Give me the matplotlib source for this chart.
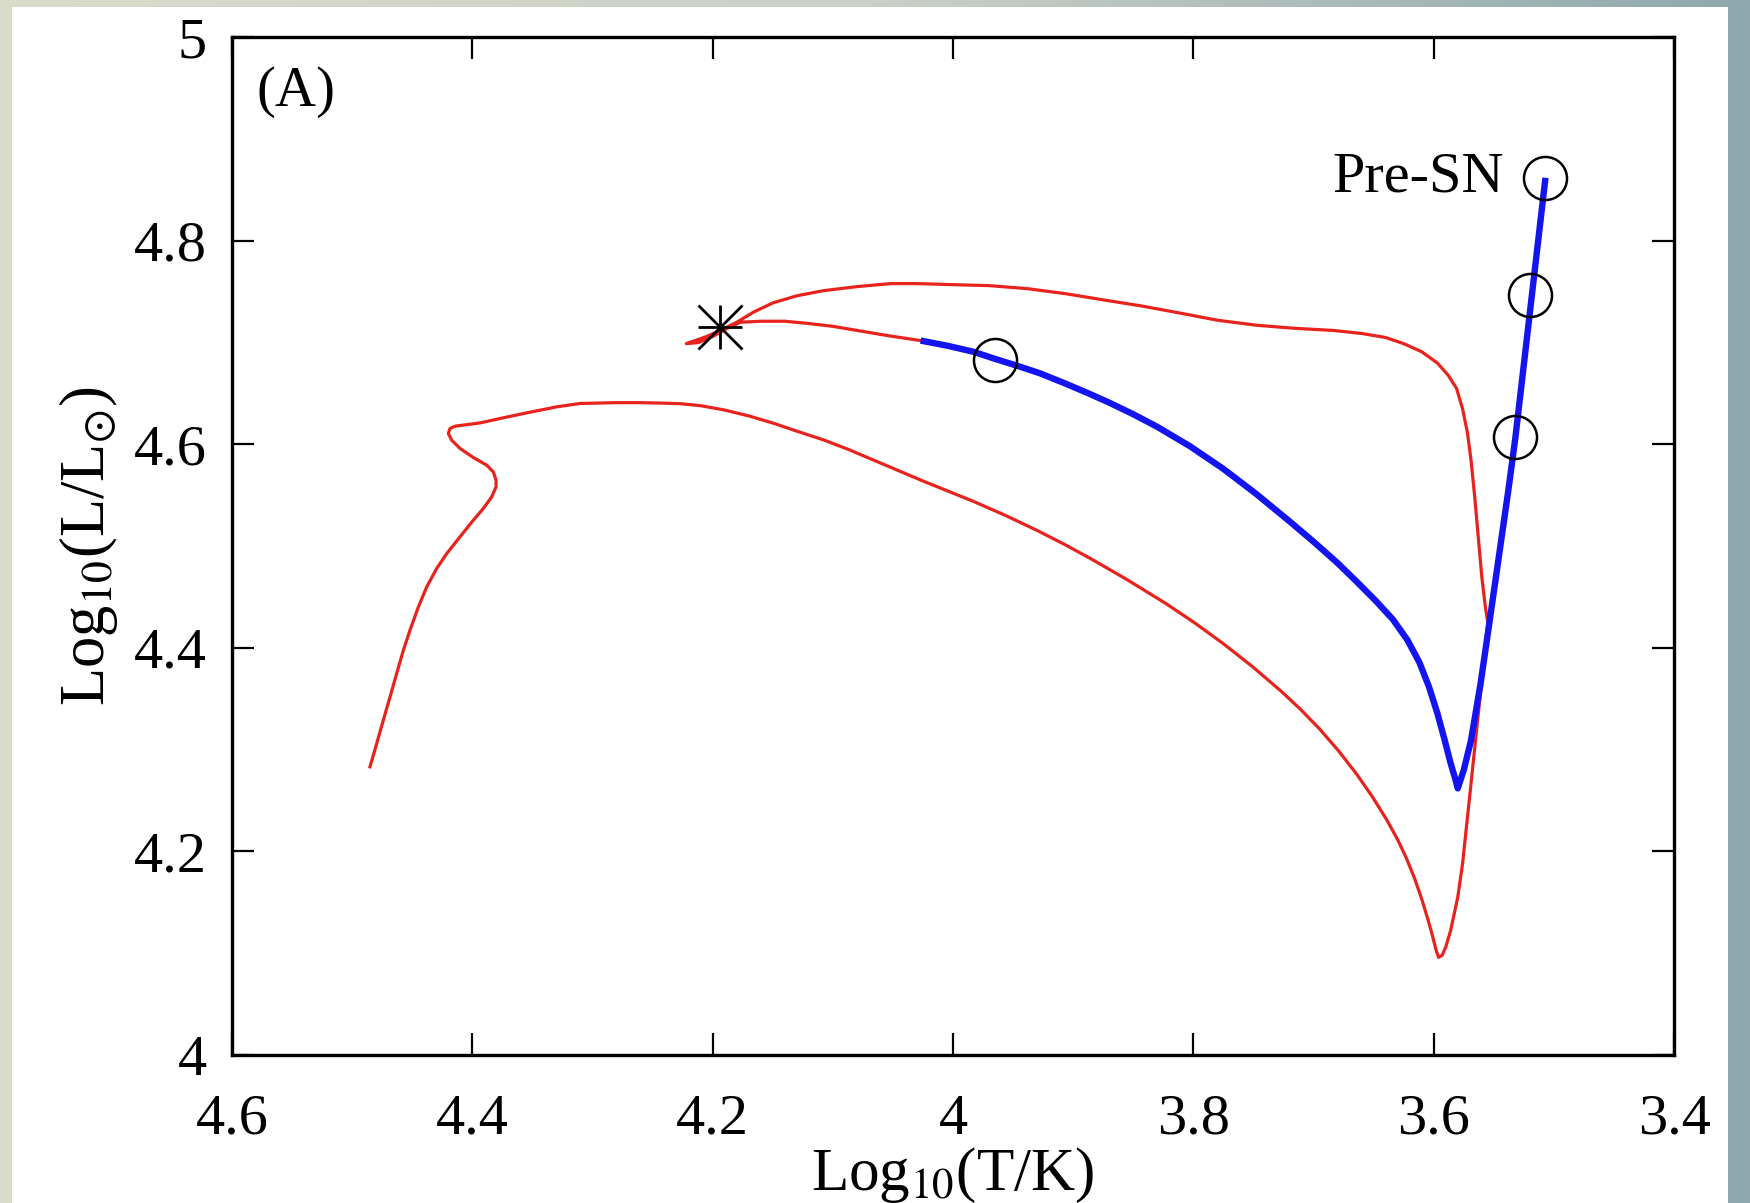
import matplotlib
matplotlib.use('Agg')
import matplotlib.pyplot as plt
from matplotlib.patches import Rectangle
from matplotlib.colors import LinearSegmentedColormap
import numpy as np

plt.rcParams['font.family'] = ['Liberation Serif', 'DejaVu Serif']
plt.rcParams['mathtext.fontset'] = 'stix'

# Трек до голубой петли (красный)
red_logT = [4.4852, 4.4796, 4.4741, 4.4685, 4.4630, 4.4574, 4.4519, 4.4449, 4.4380, 4.4297,
            4.4213, 4.4103, 4.3992, 4.3909, 4.3839, 4.3803, 4.3803, 4.3826, 4.3881, 4.3992,
            4.4103, 4.4172, 4.4200, 4.4186, 4.4144, 4.3936, 4.3770, 4.3576, 4.3298, 4.3104,
            4.280, 4.260, 4.240, 4.227, 4.210, 4.191, 4.170, 4.150, 4.130, 4.108,
            4.087, 4.067, 4.046, 4.025, 4.004, 3.983, 3.956, 3.930, 3.908, 3.886,
            3.855, 3.823, 3.799, 3.775, 3.751, 3.727, 3.711, 3.695, 3.679, 3.664,
            3.651, 3.639, 3.630, 3.623, 3.616, 3.610, 3.605, 3.601, 3.598, 3.596,
            3.593, 3.590, 3.586, 3.580, 3.576, 3.570, 3.564, 3.558, 3.555,
            3.557, 3.560, 3.563, 3.566, 3.569, 3.572, 3.576, 3.581, 3.588, 3.597,
            3.610, 3.625, 3.640, 3.660, 3.684, 3.715, 3.747, 3.780, 3.811, 3.843,
            3.875, 3.906, 3.938, 3.970, 4.002, 4.030, 4.052, 4.080, 4.108, 4.130,
            4.150, 4.166, 4.180, 4.192, 4.205, 4.222, 4.212, 4.200, 4.188, 4.177,
            4.160, 4.140, 4.122, 4.100, 4.080, 4.055, 4.027]
red_logL = [4.2832, 4.3062, 4.3291, 4.3520, 4.3749, 4.3978, 4.4175, 4.4404, 4.4600, 4.4781,
            4.4928, 4.5092, 4.5255, 4.5370, 4.5485, 4.5583, 4.5648, 4.5730, 4.5796, 4.5871,
            4.5960, 4.6041, 4.6107, 4.6156, 4.6179, 4.6211, 4.6254, 4.6303, 4.6369, 4.6402,
            4.6410, 4.6410, 4.6405, 4.6400, 4.6380, 4.6340, 4.6280, 4.6210, 4.6130, 4.6045,
            4.5950, 4.5850, 4.5745, 4.5640, 4.5540, 4.5440, 4.5300, 4.5154, 4.5022, 4.4881,
            4.4670, 4.4437, 4.4247, 4.4041, 4.3818, 4.3575, 4.3399, 4.3204, 4.2986, 4.2758,
            4.2537, 4.2309, 4.2116, 4.1941, 4.1738, 4.1534, 4.1339, 4.1171, 4.1030, 4.0960,
            4.0980, 4.1060, 4.1220, 4.1550, 4.1880, 4.2550, 4.3230, 4.3900, 4.4250,
            4.4400, 4.4700, 4.5100, 4.5500, 4.5850, 4.6120, 4.6350, 4.6550, 4.6680, 4.6800,
            4.6910, 4.6990, 4.7050, 4.7090, 4.7120, 4.7140, 4.7170, 4.7220, 4.7290, 4.7360,
            4.7420, 4.7480, 4.7530, 4.7560, 4.7570, 4.7580, 4.7580, 4.7550, 4.7510, 4.7460,
            4.7390, 4.7300, 4.7200, 4.7130, 4.7060, 4.6990, 4.7000, 4.7060, 4.7140, 4.7200,
            4.7210, 4.7210, 4.7190, 4.7160, 4.7120, 4.7070, 4.7020]

# Голубая петля и красный сверхгигант (синий)
blue_logT = [4.027, 4.005, 3.983, 3.965, 3.946, 3.928, 3.907, 3.888, 3.870, 3.850,
             3.830, 3.803, 3.775, 3.748, 3.721, 3.700, 3.680, 3.664, 3.648, 3.634,
             3.622, 3.612, 3.604, 3.597, 3.591, 3.586, 3.582, 3.580, 3.575, 3.569,
             3.561, 3.554, 3.546, 3.538, 3.532, 3.507]
blue_logL = [4.702, 4.697, 4.691, 4.684, 4.677, 4.670, 4.660, 4.6505, 4.641, 4.6296,
             4.6172, 4.5983, 4.5759, 4.5516, 4.5254, 4.5044, 4.4834, 4.465, 4.446, 4.428,
             4.408, 4.386, 4.362, 4.336, 4.310, 4.287, 4.271, 4.262, 4.280, 4.309,
             4.365, 4.422, 4.488, 4.554, 4.607, 4.862]

# Отмеченные точки
circ_logT = [3.965, 3.532, 3.520, 3.507]
circ_logL = [4.683, 4.607, 4.747, 4.862]
star_logT = [4.194]
star_logL = [4.715]

xticks = [4.6, 4.4, 4.2, 4.0, 3.8, 3.6, 3.4]
xlabels = ['4.6', '4.4', '4.2', '4', '3.8', '3.6', '3.4']
yticks = [4.0, 4.2, 4.4, 4.6, 4.8, 5.0]
ylabels = ['4', '4.2', '4.4', '4.6', '4.8', '5']

fig = plt.figure(figsize=(17.5, 12.03), dpi=100)

# фон слайда
bg = fig.add_axes([0, 0, 1, 1], zorder=-10)
grad = np.linspace(0, 1, 256).reshape(1, -1)
cmap = LinearSegmentedColormap.from_list('bg', ['#dadcca', '#c9d0c6', '#8fa8ae'])
bg.imshow(grad, aspect='auto', cmap=cmap, extent=[0, 1, 0, 1])
bg.set_xlim(0, 1)
bg.set_ylim(0, 1)
bg.axis('off')
bg.add_patch(Rectangle((12 / 1750, 0), (1728 - 12) / 1750, 1 - 7 / 1203,
                       facecolor='white', edgecolor='none'))

ax = fig.add_axes([0.1326, 0.123, 0.824, 0.846])
ax.plot(red_logT, red_logL, color='#e8231d', lw=2.3, zorder=2)
ax.plot(blue_logT, blue_logL, color='#1414f0', lw=4.6, zorder=3,
        solid_capstyle='butt')
ax.plot(circ_logT, circ_logL, 'o', ms=31, mfc='none', mec='black', mew=1.8, zorder=4)
ax.plot(star_logT, star_logL, '+', ms=32, mec='black', mew=2.0, zorder=4)
ax.plot(star_logT, star_logL, 'x', ms=32, mec='black', mew=2.0, zorder=4)

ax.annotate('Pre-SN', xy=(circ_logT[3], circ_logL[3]), xytext=(-30, 0),
            textcoords='offset points', ha='right', va='center', fontsize=42)
ax.text(0.017, 0.946, '(A)', transform=ax.transAxes, ha='left', va='center',
        fontsize=41)

ax.set_xlim(4.6, 3.4)
ax.set_ylim(4.0, 5.0)
ax.set_xticks(xticks)
ax.set_xticklabels(xlabels)
ax.set_yticks(yticks)
ax.set_yticklabels(ylabels)
ax.tick_params(direction='in', length=16, width=1.6, top=True, right=True,
               labelsize=42)
ax.tick_params(axis='x', pad=28)
ax.tick_params(axis='y', pad=18)
for s in ax.spines.values():
    s.set_linewidth(2.4)

ax.set_xlabel(r'Log$_{10}$(T/K)', fontsize=44, labelpad=0)
ax.set_ylabel(r'Log$_{10}$(L/L$_{\odot}$)', fontsize=45, labelpad=10)

fig.savefig('out.png', dpi=100)
